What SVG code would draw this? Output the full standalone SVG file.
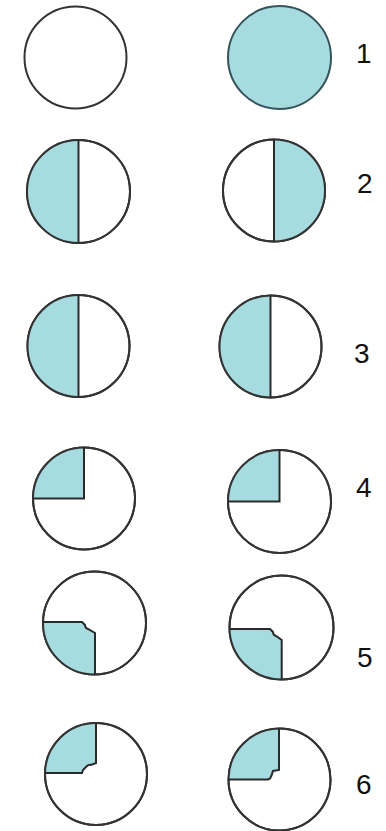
<svg xmlns="http://www.w3.org/2000/svg" width="386" height="831" viewBox="0 0 386 831">
<style>
.ring{fill:#ffffff;stroke:#333333;stroke-width:2}
.fill{fill:#a6dbe0;stroke:none}
.edge{fill:none;stroke:#2a2a2a;stroke-width:2;stroke-linejoin:miter}
.ringonly{fill:none;stroke:#333333;stroke-width:2}
.lbl{font-family:"Liberation Sans",Arial,sans-serif;font-size:28px;fill:#111111}
</style>
<rect width="386" height="831" fill="#ffffff"/>
<!-- Row 1 -->
<g id="r1-left" transform="translate(75.5,57.5)">
<circle class="ring" r="51"/>
</g>
<g id="r1-right" transform="translate(279.5,57.5)">
<circle class="ring" r="51.5" style="fill:#a6dbe0;stroke:#35545a"/>
</g>
<text id="label-1" class="lbl" x="356" y="63">1</text>
<!-- Row 2 -->
<g id="r2-left" transform="translate(78.5,191.5)">
<circle class="ring" r="51.5"/>
<path class="fill" d="M0,-51.5 A51.5,51.5 0 0 0 0,51.5 Z"/>
<circle class="ringonly" r="51.5"/>
<line class="edge" x1="0" y1="-51.5" x2="0" y2="51.5"/>
</g>
<g id="r2-right" transform="translate(274,190.5)">
<circle class="ring" r="51"/>
<path class="fill" d="M0,-51 A51,51 0 0 1 0,51 Z"/>
<circle class="ringonly" r="51"/>
<line class="edge" x1="0" y1="-51" x2="0" y2="51"/>
</g>
<text id="label-2" class="lbl" x="357" y="193">2</text>
<!-- Row 3 -->
<g id="r3-left" transform="translate(78.5,346)">
<circle class="ring" r="51"/>
<path class="fill" d="M0,-51 A51,51 0 0 0 0,51 Z"/>
<circle class="ringonly" r="51"/>
<line class="edge" x1="0" y1="-51" x2="0" y2="51"/>
</g>
<g id="r3-right" transform="translate(270.5,346.5)">
<circle class="ring" r="51"/>
<path class="fill" d="M0,-51 A51,51 0 0 0 0,51 Z"/>
<circle class="ringonly" r="51"/>
<line class="edge" x1="0" y1="-51" x2="0" y2="51"/>
</g>
<text id="label-3" class="lbl" x="354" y="363">3</text>
<!-- Row 4 -->
<g id="r4-left" transform="translate(84,498.5)">
<circle class="ring" r="51"/>
<path class="fill" d="M0,-51 A51,51 0 0 0 -51,0 H0 Z"/>
<circle class="ringonly" r="51"/>
<path class="edge" d="M0,-51 V0 H-51"/>
</g>
<g id="r4-right" transform="translate(279.5,501.5)">
<circle class="ring" r="51.5"/>
<path class="fill" d="M0,-51.5 A51.5,51.5 0 0 0 -51.5,0 H0 Z"/>
<circle class="ringonly" r="51.5"/>
<path class="edge" d="M0,-51.5 V0 H-51.5"/>
</g>
<text id="label-4" class="lbl" x="356" y="497">4</text>
<!-- Row 5 -->
<g id="r5-left" transform="translate(94.5,623)">
<circle class="ring" r="51.5"/>
<path class="fill" d="M-51.49,-1 H-12.5 L-9.5,2 Q-9.5,5 -6.5,6 L0.5,10 V51.5 A51.5,51.5 0 0 1 -51.49,-1 Z"/>
<circle class="ringonly" r="51.5"/>
<path class="edge" d="M-51.49,-1 H-12.5 L-9.5,2 Q-9.5,5 -6.5,6 L0.5,10 V51.5"/>
</g>
<g id="r5-right" transform="translate(281.5,627.5)">
<circle class="ring" r="52"/>
<path class="fill" d="M-51.98,1.5 H-11.5 L-8.5,4.5 Q-8.5,7.5 -5.5,8.5 L0.2,12.5 V52 A52,52 0 0 1 -51.98,1.5 Z"/>
<circle class="ringonly" r="52"/>
<path class="edge" d="M-51.98,1.5 H-11.5 L-8.5,4.5 Q-8.5,7.5 -5.5,8.5 L0.2,12.5 V52"/>
</g>
<text id="label-5" class="lbl" x="357" y="667">5</text>
<!-- Row 6 -->
<g id="r6-left" transform="translate(96,774)">
<circle class="ring" r="51"/>
<path class="fill" d="M0,-51 V-11 L-5,-9 Q-7,-10 -9,-8 L-13,-4 L-14,-1 H-50.99 A51,51 0 0 1 0,-51 Z"/>
<circle class="ringonly" r="51"/>
<path class="edge" d="M0,-51 V-11 L-5,-9 Q-7,-10 -9,-8 L-13,-4 L-14,-1 H-50.99"/>
</g>
<g id="r6-right" transform="translate(279.5,779.5)">
<circle class="ring" r="51"/>
<path class="fill" d="M-0.5,-51 V-9.5 L-6.5,-8.5 L-8,-4 L-9.5,-1 L-11.5,0 H-51 A51,51 0 0 1 -0.5,-51 Z"/>
<circle class="ringonly" r="51"/>
<path class="edge" d="M-0.5,-51 V-9.5 L-6.5,-8.5 L-8,-4 L-9.5,-1 L-11.5,0 H-51"/>
</g>
<text id="label-6" class="lbl" x="356" y="794">6</text>
</svg>
